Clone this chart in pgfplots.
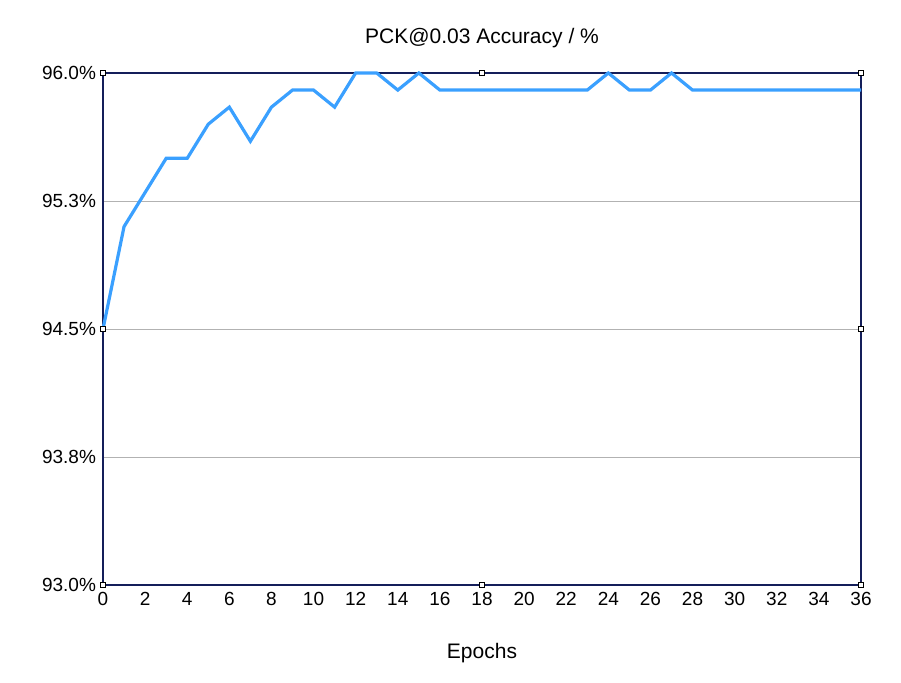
\documentclass[border=0pt]{standalone}
\usepackage{pgfplots}
\pgfplotsset{compat=1.18}
\usepackage{fontspec}
\setmainfont{Liberation Sans}
\definecolor{line}{RGB}{58,160,255}
\definecolor{frame}{RGB}{20,30,90}
\begin{document}
\begin{tikzpicture}
\begin{axis}[name=ax, scale only axis, width=379pt, height=256pt,
  xmin=0, xmax=36, ymin=93, ymax=96,
  xtick={0,2,...,36}, ytick={93,93.75,94.5,95.25,96},
  yticklabels={93.0\%,93.8\%,94.5\%,95.3\%,96.0\%},
  /pgf/number format/assume math mode=true,
  ymajorgrids, grid style={gray!60, line width=0.4pt},
  axis line style={frame, line width=0.8pt},
  tick style={draw=none},
  ticklabel style={font=\fontsize{9.5}{11}\selectfont},
  title={PCK@0.03 Accuracy / \%}, title style={font=\fontsize{10.5}{12}\selectfont, yshift=3pt},
  xlabel={Epochs}, xlabel style={font=\fontsize{10.5}{12}\selectfont, yshift=-12pt},
  clip=false]
\addplot[line, line width=1.6pt, mark=none] coordinates {
(0,94.5)(1,95.1)(2,95.3)(3,95.5)(4,95.5)(5,95.7)(6,95.8)(7,95.6)(8,95.8)(9,95.9)
(10,95.9)(11,95.8)(12,96.0)(13,96.0)(14,95.9)(15,96.0)(16,95.9)(17,95.9)(18,95.9)
(19,95.9)(20,95.9)(21,95.9)(22,95.9)(23,95.9)(24,96.0)(25,95.9)(26,95.9)(27,96.0)
(28,95.9)(29,95.9)(30,95.9)(31,95.9)(32,95.9)(33,95.9)(34,95.9)(35,95.9)(36,95.9)};
\addplot[only marks, mark=square*, mark size=1.3pt, mark options={fill=white, draw=black, line width=0.3pt}] coordinates {
(0,93)(18,93)(36,93)(0,94.5)(36,94.5)(0,96)(18,96)(36,96)};
\end{axis}
\path (ax.south west) ++(-51.5pt,-48.5pt) coordinate (bl);
\path (ax.north east) ++(20pt,36.5pt) coordinate (tr);
\useasboundingbox (bl) rectangle (tr);
\end{tikzpicture}
\end{document}
